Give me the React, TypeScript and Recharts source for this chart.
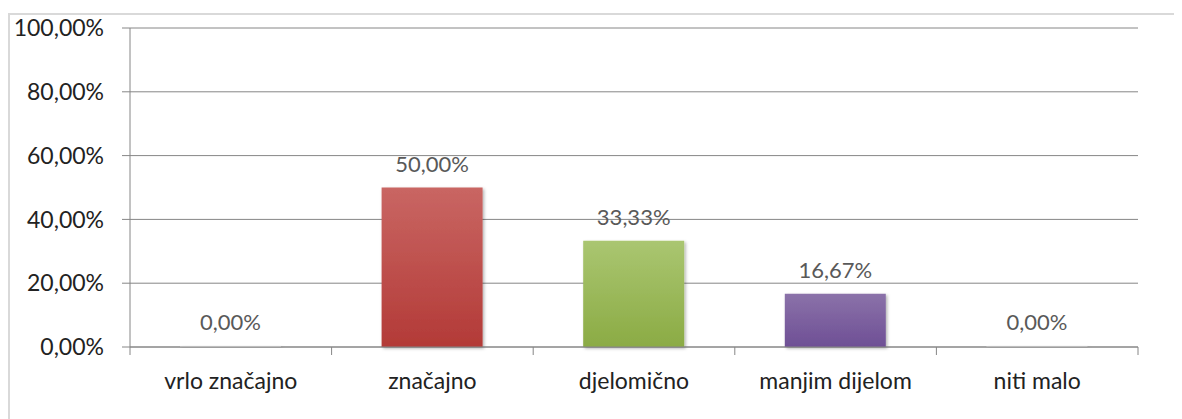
import React from 'react';
import { BarChart, Bar, XAxis, YAxis, CartesianGrid, Cell, LabelList } from 'recharts';

const categories = ['vrlo značajno', 'značajno', 'djelomično', 'manjim dijelom', 'niti malo'];
const values = [0, 50, 33.33, 16.67, 0];
const yTicks = [0, 20, 40, 60, 80, 100];

const GRADS = [
  ['#5b8bc4', '#4a78b0'],
  ['#c96663', '#b33a37'],
  ['#aac671', '#8bab44'],
  ['#8b72a9', '#6e4f95'],
  ['#6fc0d6', '#4bacc6'],
];

const FONT = 'Lato, "Open Sans", sans-serif';
const AXIS = '#868686';
const CHART_W = 1174;
const CHART_H = 411;
const MARGIN = { top: 20, right: 44, left: 0, bottom: 22 };
const Y_WIDTH = 122;
const BAND = (CHART_W - MARGIN.right - MARGIN.left - Y_WIDTH) / categories.length;

const data = categories.map((name, i) => ({ name, value: values[i] }));

const pct = (v: number) => `${Number(v).toFixed(2).replace('.', ',')}%`;

const CategoryTick = (props: any) => {
  const { x, y, payload, index } = props;
  const axisY = y;
  return (
    <g>
      <line x1={x - BAND / 2} y1={axisY} x2={x - BAND / 2} y2={axisY + 8} stroke={AXIS} />
      {index === categories.length - 1 && (
        <line x1={x + BAND / 2} y1={axisY} x2={x + BAND / 2} y2={axisY + 8} stroke={AXIS} />
      )}
      <text x={x} y={axisY + 42} textAnchor="middle" fill="#222" fontSize={23} fontFamily={FONT}>
        {payload.value}
      </text>
    </g>
  );
};

const App: React.FC = () => {
  return (
    <div style={{ position: 'relative', width: CHART_W, height: CHART_H }}>
      <div
        style={{
          position: 'absolute',
          left: 0,
          top: 5,
          width: CHART_W,
          height: CHART_H,
          borderTop: '2px solid #d9d9d9',
          borderLeft: '2px solid #d9d9d9',
          boxSizing: 'border-box',
        }}
      />
      <div style={{ position: 'absolute', left: 0, top: 0 }}>
        <BarChart width={CHART_W} height={CHART_H} data={data} margin={MARGIN}>
          <defs>
            {GRADS.map((g, i) => (
              <linearGradient key={i} id={`grad-${i}`} x1="0" y1="0" x2="0" y2="1">
                <stop offset="0%" stopColor={g[0]} />
                <stop offset="100%" stopColor={g[1]} />
              </linearGradient>
            ))}
            <filter id="barShadow" x="-10%" y="-10%" width="130%" height="130%">
              <feDropShadow dx="1.5" dy="1.5" stdDeviation="1.5" floodColor="#000" floodOpacity="0.3" />
            </filter>
          </defs>
          <CartesianGrid vertical={false} stroke={AXIS} strokeWidth={1} />
          <XAxis
            dataKey="name"
            axisLine={{ stroke: AXIS }}
            tickLine={false}
            tickSize={0}
            tickMargin={0}
            height={50}
            interval={0}
            tick={<CategoryTick />}
          />
          <YAxis
            domain={[0, 100]}
            ticks={yTicks}
            width={Y_WIDTH}
            axisLine={{ stroke: AXIS }}
            tickLine={{ stroke: AXIS }}
            tickSize={8}
            tickMargin={18}
            tickFormatter={pct}
            tick={{ fill: '#222', fontSize: 23, fontFamily: FONT }}
          />
          <Bar dataKey="value" barSize={101} minPointSize={1} isAnimationActive={false} filter="url(#barShadow)">
            {data.map((d, i) => (
              <Cell key={`cell-${i}`} fill={d.value === 0 ? '#f4f4f4' : `url(#grad-${i})`} />
            ))}
            <LabelList
              dataKey="value"
              position="top"
              offset={16}
              formatter={(v: any) => pct(v)}
              fill="#595959"
              fontSize={22}
              fontFamily={FONT}
            />
          </Bar>
        </BarChart>
      </div>
    </div>
  );
};

export default App;
